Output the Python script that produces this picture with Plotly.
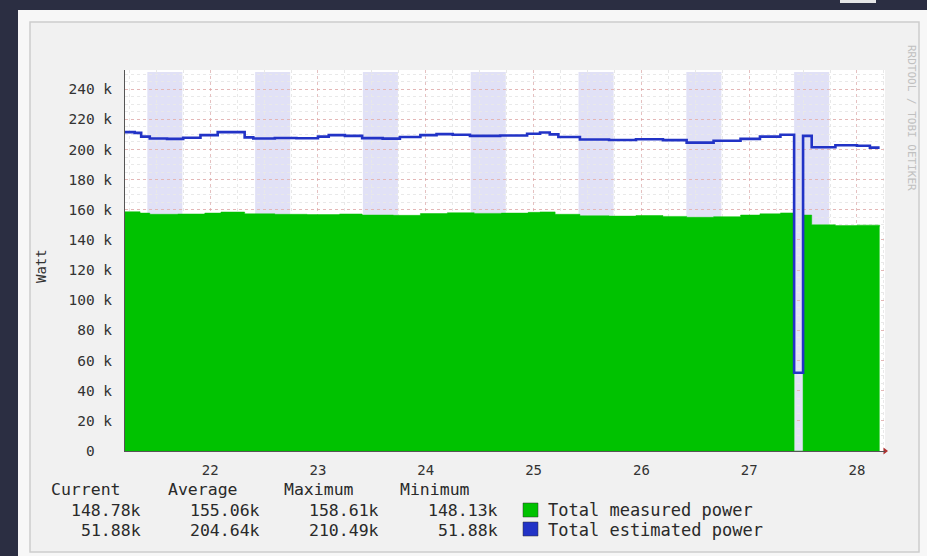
import plotly.graph_objects as go

# ---------------- data (values in kW, time in days of month) ----------------
measured_t = [21.21, 21.35, 21.44, 21.70, 21.95, 22.10, 22.32, 22.60, 22.90, 23.20,
              23.41, 23.70, 23.95, 24.20, 24.45, 24.70, 24.95, 25.06, 25.20, 25.43,
              25.70, 25.95, 26.20, 26.42, 26.67, 26.92, 27.10, 27.29, 27.417, 27.50,
              27.58, 27.80, 28.00, 28.21]
measured_kw = [158.7, 157.8, 157.0, 157.2, 157.8, 158.5, 157.3, 157.0, 156.8, 157.2,
               156.5, 156.3, 157.5, 158.0, 157.6, 157.8, 158.3, 158.6, 157.0, 156.0,
               155.8, 156.2, 155.6, 155.0, 155.4, 156.5, 157.3, 157.9, 0.0, 156.5,
               150.0, 149.5, 149.8, 148.8]

estimated_t = [21.21, 21.30, 21.36, 21.44, 21.60, 21.75, 21.91, 22.07, 22.32, 22.40,
               22.60, 22.80, 23.00, 23.10, 23.25, 23.41, 23.60, 23.76, 23.95, 24.10,
               24.25, 24.41, 24.69, 24.94, 25.06, 25.15, 25.23, 25.43, 25.70, 25.95,
               26.20, 26.42, 26.67, 26.92, 27.10, 27.29, 27.417, 27.50, 27.58, 27.80,
               28.00, 28.12, 28.21]
estimated_kw = [211.5, 211.0, 208.5, 207.3, 207.0, 207.8, 209.5, 211.5, 208.0, 207.3,
                207.6, 207.4, 208.5, 209.5, 209.0, 207.5, 207.2, 208.3, 209.5, 210.2,
                209.8, 209.0, 209.3, 210.4, 211.2, 210.0, 208.3, 206.6, 206.3, 206.8,
                206.2, 204.5, 205.8, 207.0, 208.5, 209.8, 51.88, 209.0, 201.5, 202.8,
                202.5, 201.2, 201.2]

night_days = [21, 22, 23, 24, 25, 26, 27]

y_ticks = [0, 20000, 40000, 60000, 80000, 100000, 120000, 140000, 160000, 180000,
           200000, 220000, 240000]
y_tick_labels = ["0\u00a0\u00a0", "20\u00a0k", "40\u00a0k", "60\u00a0k", "80\u00a0k",
                 "100\u00a0k", "120\u00a0k", "140\u00a0k", "160\u00a0k", "180\u00a0k",
                 "200\u00a0k", "220\u00a0k", "240\u00a0k"]
x_ticks = [22, 23, 24, 25, 26, 27, 28]
x_tick_labels = ["22", "23", "24", "25", "26", "27", "28"]

stats_headers = ["Current", "Average", "Maximum", "Minimum"]
measured_stats = ["148.78k", "155.06k", "158.61k", "148.13k"]
estimated_stats = ["51.88k", "204.64k", "210.49k", "51.88k"]
series_names = ["Total measured power", "Total estimated power"]
series_colors = ["#00c200", "#2233c6"]

# ---------------- layout geometry ----------------
W, H = 927, 556
ML, MR, MT, MB = 125, 42, 70, 105
PW, PH = W - ML - MR, H - MT - MB
X_RANGE = [21.21, 28.26]
Y_RANGE = [0, 252700]
MONO = "DejaVu Sans Mono"


def px(x):
    return (x - ML) / PW


def py(y):
    return (H - MB - y) / PH


fig = go.Figure()

fig.add_trace(go.Scatter(
    x=measured_t, y=[v * 1000 for v in measured_kw],
    mode="lines", line=dict(shape="hv", width=0.5, color=series_colors[0]),
    fill="tozeroy", fillcolor=series_colors[0], name=series_names[0],
    showlegend=False))

fig.add_trace(go.Scatter(
    x=estimated_t, y=[v * 1000 for v in estimated_kw],
    mode="lines", line=dict(shape="hv", width=2.6, color=series_colors[1]),
    name=series_names[1], showlegend=False))

# axis arrow heads
fig.add_trace(go.Scatter(
    x=[X_RANGE[0], X_RANGE[1]], y=[Y_RANGE[1] + 4500, 0],
    mode="markers", marker=dict(symbol=["triangle-up", "triangle-right"], size=6,
                                color="#b03030"),
    cliponaxis=False, showlegend=False, hoverinfo="skip"))

shapes = []
# outer light panel
shapes.append(dict(type="rect", xref="paper", yref="paper", x0=px(18), x1=px(W + 2),
                   y0=py(H + 2), y1=py(10), fillcolor="#f7f7f7", line_width=0,
                   layer="below"))
# top-right stray light edge
shapes.append(dict(type="rect", xref="paper", yref="paper", x0=px(840), x1=px(876),
                   y0=py(3), y1=py(0), fillcolor="#e6e6e6", line_width=0, layer="below"))
# inner box
shapes.append(dict(type="rect", xref="paper", yref="paper", x0=px(30), x1=px(919),
                   y0=py(552), y1=py(22), fillcolor="#f1f1f1",
                   line=dict(color="#cdcdcd", width=1.5), layer="below"))
# plot area background
shapes.append(dict(type="rect", xref="paper", yref="paper", x0=0, x1=1,
                   y0=0, y1=1, fillcolor="#ffffff", line_width=0, layer="below"))
# night bands
for d in night_days:
    shapes.append(dict(type="rect", xref="x", yref="y domain", x0=d + 0.417, x1=d + 0.742,
                       y0=0, y1=0.995, fillcolor="rgba(200,200,238,0.55)", line_width=0,
                       layer="below"))
# legend colour boxes
for i, c in enumerate(series_colors):
    y0 = 503 + i * 19
    shapes.append(dict(type="rect", xref="paper", yref="paper", x0=px(523), x1=px(538),
                       y0=py(y0 + 14), y1=py(y0), fillcolor=c,
                       line=dict(color="#333333", width=0.5)))

annotations = []
header_x = [49, 166, 282, 398]
value_right = [143, 262, 381, 500]
for hx, txt in zip(header_x, stats_headers):
    annotations.append(dict(x=px(hx), y=py(489), xref="paper", yref="paper", text=txt,
                            showarrow=False, xanchor="left", yanchor="middle",
                            font=dict(family=MONO, size=16.5, color="#2a2a2a")))
for row, vals in enumerate([measured_stats, estimated_stats]):
    yy = 510 + row * 20
    for vx, txt in zip(value_right, vals):
        annotations.append(dict(x=px(vx), y=py(yy), xref="paper", yref="paper", text=txt,
                                showarrow=False, xanchor="right", yanchor="middle",
                                font=dict(family=MONO, size=16.5, color="#2a2a2a")))
    annotations.append(dict(x=px(546), y=py(yy), xref="paper", yref="paper",
                            text=series_names[row], showarrow=False, xanchor="left",
                            yanchor="middle",
                            font=dict(family=MONO, size=17, color="#2a2a2a")))

annotations.append(dict(x=px(41), y=py(266), xref="paper", yref="paper", text="Watt",
                        textangle=-90, showarrow=False, xanchor="center", yanchor="middle",
                        font=dict(family=MONO, size=14, color="#333333")))
annotations.append(dict(x=px(912), y=py(118), xref="paper", yref="paper",
                        text="RRDTOOL / TOBI OETIKER", textangle=90, showarrow=False,
                        xanchor="center", yanchor="middle",
                        font=dict(family=MONO, size=11, color="#c0c0c0")))

fig.update_layout(
    width=W, height=H,
    margin=dict(l=ML, r=MR, t=MT, b=MB, pad=0),
    paper_bgcolor="#2b2e42",
    plot_bgcolor="rgba(0,0,0,0)",
    shapes=shapes,
    annotations=annotations,
    showlegend=False,
    xaxis=dict(range=X_RANGE, tickmode="array", tickvals=x_ticks, ticktext=x_tick_labels,
               showline=True, linecolor="#555555", linewidth=1, ticks="",
               ticklabelstandoff=6,
               tickfont=dict(family=MONO, size=14, color="#333333"),
               showgrid=True, gridcolor="rgba(225,160,160,0.55)", griddash="dot",
               gridwidth=1, zeroline=False,
               minor=dict(dtick=0.25, tick0=21.0, showgrid=True, gridcolor="#e8e8e8",
                          gridwidth=1)),
    yaxis=dict(range=Y_RANGE, tickmode="array", tickvals=y_ticks, ticktext=y_tick_labels,
               showline=True, linecolor="#555555", linewidth=1, ticks="",
               ticklabelstandoff=9,
               tickfont=dict(family=MONO, size=14.5, color="#333333"),
               showgrid=True, gridcolor="rgba(225,150,150,0.6)", griddash="dot",
               gridwidth=1, zeroline=False,
               minor=dict(dtick=5000, tick0=0, showgrid=True, gridcolor="#e9e9e9",
                          gridwidth=1)),
)

fig.write_html(
    "out.html",
    config={"displayModeBar": False},
    post_script="document.body.style.margin='0';document.body.style.padding='0';"
                "document.body.style.background='#2b2e42';",
)
